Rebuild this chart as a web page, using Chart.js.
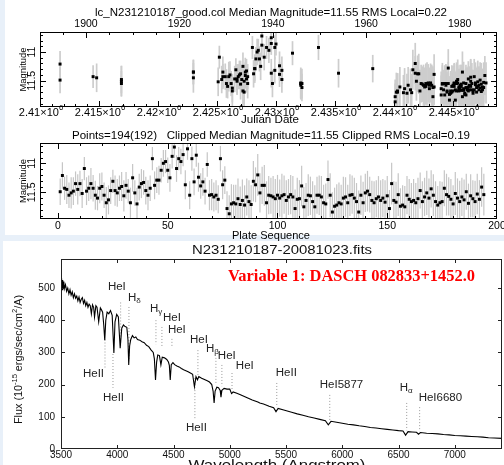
<!DOCTYPE html>
<html><head><meta charset="utf-8">
<script src="https://cdn.jsdelivr.net/npm/chart.js@4.4.0/dist/chart.umd.min.js"></script>
<style>
html,body{margin:0;padding:0}
body{width:504px;height:465px;overflow:hidden;position:relative;background:#e8f0f9}
.pn{position:absolute;background:#fff}
canvas{position:absolute;left:0;top:0}
</style></head><body>
<div class="pn" style="left:5px;top:0;width:499px;height:235px"></div>
<div class="pn" style="left:3px;top:241px;width:501px;height:224px"></div>
<canvas id="lc1" width="504" height="465"></canvas>
<canvas id="lc2" width="504" height="465"></canvas>
<canvas id="sp" width="504" height="465"></canvas>
<script>
// ---------------- DATA ----------------
// Julian Date of each plate, in thousands of days (2410 = 2.41x10^6)
const jdK = [
 2411.7,2411.7,2414.5,2414.8,2416.9,2416.9,2416.9,2423.0,2423.0,2423.0,
 2425.1,2425.2,2425.4,2425.5,2425.5,2425.7,2425.8,2425.9,2426.0,2426.1,
 2426.2,2426.3,2426.3,2426.5,2426.6,2426.7,2426.7,2426.8,2426.9,2427.0,
 2427.0,2427.1,2427.2,2427.2,2427.3,2427.3,2427.4,2427.4,2427.5,2427.5,
 2427.6,2427.6,
 2428.0,2428.1,2428.2,2428.2,2428.3,2428.4,2428.5,2428.6,2428.7,2428.8,
 2428.8,2429.0,2429.2,2429.4,2429.6,2429.6,2429.6,2429.7,2429.9,2429.9,
 2430.0,2430.3,2430.3,2430.5,2430.5,
 2431.4,2432.1,2432.1,2432.1,2432.2,2432.2,2433.6,2435.3,2438.2,
 2440.1,2440.1,2440.2,2440.3,2440.3,2440.5,2440.8,2440.9,2441.1,2441.2,
 2441.4,2441.5,2441.6,2441.8,2441.8,2441.9,2442.0,2442.1,2442.2,2442.3,
 2442.4,2442.5,2442.6,2442.7,2442.7,2442.8,2442.9,2443.0,2443.0,2443.1,
 2443.2,2443.3,2443.3,2443.4,2443.4,
 2444.0,2444.0,2444.1,2444.1,2444.2,2444.3,2444.3,2444.4,2444.4,2444.5,
 2444.5,2444.6,2444.6,2444.7,2444.7,2444.8,2444.8,2444.9,2444.9,2445.0,
 2445.0,2445.1,2445.1,2445.1,2445.2,2445.2,2445.3,2445.3,2445.3,2445.4,
 2445.4,2445.5,2445.5,2445.5,2445.6,2445.6,2445.7,2445.7,2445.7,2445.8,
 2445.8,2445.9,2445.9,2445.9,2446.0,2446.0,2446.1,2446.1,2446.1,2446.2,
 2446.2,2446.3,2446.3,2446.3,2446.4,2446.4,2446.5,2446.5,2446.5,2446.6,
 2446.6,2446.7,2446.7,2446.8,2446.8,2446.9,2446.9,2447.0,2447.0,2447.1,
 2447.1,2447.2,2447.2,2447.3,2447.3,2447.4,2447.4,2447.5,2447.5,2447.6,
 2447.6,2447.7,2447.8
];
// Magnitude of each plate, in plate-sequence order
const mags = [
 11.49,11.21,11.43,11.45,11.55,11.51,11.48,11.35,11.45,11.35,
 11.52,11.09,11.48,11.43,11.35,11.43,11.55,11.60,11.43,11.40,
 11.55,11.68,11.63,11.47,11.31,11.47,11.51,11.43,11.40,11.56,
 11.38,11.48,11.68,11.25,11.51,11.70,11.41,11.35,11.33,11.47,
 11.55,11.43,10.92,11.38,11.29,11.29,11.12,11.00,10.97,11.12,
 11.25,10.88,10.72,11.09,10.92,10.97,10.85,11.37,10.75,11.55,
 10.92,11.32,10.86,11.24,11.39,11.32,11.48,11.02,11.55,11.54,
 11.58,11.55,11.62,10.92,11.37,11.29,11.78,11.87,11.70,11.68,
 11.70,11.61,11.71,
 11.64,11.72,11.58,11.66,11.71,11.31,11.37,11.20,11.51,11.38,
 11.38,11.68,11.55,11.56,11.58,11.61,11.55,11.60,11.56,11.54,
 11.64,11.58,11.54,11.58,11.78,11.62,11.61,11.39,11.75,11.64,
 11.55,11.56,11.66,11.75,11.55,11.55,11.58,11.68,11.70,11.28,
 11.55,11.84,11.74,11.72,11.68,11.70,11.60,11.58,11.68,11.55,
 11.54,11.60,11.66,11.84,11.55,11.68,11.51,11.48,11.54,11.64,
 11.68,11.61,11.58,11.64,11.60,11.67,11.56,11.78,11.35,11.64,
 11.67,11.54,11.74,11.72,11.75,11.55,11.62,11.66,11.64,11.68,
 11.61,11.47,11.66,11.58,11.51,11.60,11.44,11.55,11.66,11.72,
 11.68,11.66,11.43,11.54,11.57,11.62,11.70,11.52,11.60,11.66,
 11.58,11.63,11.49,11.69,11.56,11.61,11.66,11.53,11.62,11.41,
 11.54
];
// Magnitude error (half length of the grey bars)
const errs = [
 0.23,0.23,0.20,0.25,0.22,0.27,0.24,0.21,0.26,0.22,
 0.25,0.20,0.24,0.22,0.27,0.23,0.25,0.21,0.26,0.24,
 0.22,0.27,0.25,0.23,0.20,0.26,0.24,0.22,0.25,0.27,
 0.23,0.21,0.26,0.24,0.22,0.28,0.23,0.25,0.21,0.24,
 0.26,0.22,0.20,0.24,0.22,0.25,0.21,0.23,0.20,0.22,
 0.24,0.21,0.19,0.23,0.20,0.22,0.20,0.25,0.19,0.24,
 0.21,0.23,0.20,0.25,0.22,0.24,0.23,0.21,0.26,0.27,
 0.25,0.26,0.24,0.22,0.25,0.24,0.30,0.32,0.34,0.31,
 0.33,0.35,0.31,0.36,0.34,0.32,0.37,0.33,0.35,0.30,
 0.36,0.34,0.32,0.35,0.37,0.33,0.31,0.36,0.34,0.35,
 0.32,0.38,0.33,0.35,0.31,0.34,0.36,0.33,0.37,0.32,
 0.35,0.34,0.30,0.36,0.33,0.35,0.37,0.32,0.34,0.36,
 0.31,0.35,0.33,0.38,0.34,0.32,0.36,0.35,0.33,0.37,
 0.34,0.31,0.36,0.33,0.35,0.32,0.37,0.34,0.36,0.33,
 0.35,0.31,0.34,0.37,0.32,0.36,0.35,0.33,0.38,0.34,
 0.32,0.36,0.33,0.35,0.37,0.31,0.34,0.36,0.33,0.35,
 0.32,0.37,0.34,0.36,0.31,0.35,0.33,0.38,0.34,0.32,
 0.36,0.35,0.33,0.37,0.34,0.31,0.36,0.33,0.35,0.32,
 0.37,0.34,0.36,0.33,0.35,0.31,0.34,0.37,0.32,0.36,
 0.35,0.33,0.34,0.36
];
// tick values
const jdTicks = [2410,2415,2420,2425,2430,2435,2440,2445];
const yearTicks = [1900,1920,1940,1960,1980];
const magTicks = [11,11.5];
const seqTicks = [0,50,100,150,200];
const waveTicks = [3500,4000,4500,5000,5500,6000,6500,7000];
const fluxTicks = [0,100,200,300,400,500];

// spectrum (Angstrom, 1e-15 erg/s/cm2/A)
const specWave = [3500,3505,3510,3515,3520,3525,3530,3540,3550,3560,3570,3580,3590,3600,3610,3620,3630,3640,3650,3660,3670,3680,3690,3700,3710,3720,3730,3740,3750,3760,3770,3780,3790,3798,3810,3820,3835,3850,3860,3870,3880,3889,3898,3910,3925,3940,3955,3970,3980,3995,4010,4026,4040,4055,4070,4085,4095,4102,4110,4120,4135,4150,4165,4180,4200,4220,4240,4260,4280,4300,4320,4330,4340,4350,4360,4375,4388,4400,4420,4440,4455,4463,4471,4480,4495,4510,4530,4550,4570,4590,4610,4630,4650,4670,4686,4700,4713,4725,4750,4775,4800,4820,4840,4852,4861,4870,4885,4900,4915,4922,4930,4950,4975,5000,5016,5030,5063,5100,5150,5200,5250,5267,5300,5350,5390,5411,5430,5480,5550,5600,5650,5700,5750,5800,5850,5876,5900,5950,6000,6050,6100,6150,6200,6250,6300,6350,6400,6450,6500,6540,6563,6585,6620,6660,6678,6695,6750,6800,6850,6900,6950,7000,7050,7100,7150,7200,7250,7300,7350,7420];
const specFlux = [505,530,495,525,500,520,498,510,490,500,482,495,478,488,470,482,468,475,460,472,455,465,470,452,462,445,455,440,450,445,420,448,440,410,445,440,395,438,432,425,385,338,400,425,420,430,415,298,395,418,410,313,375,385,380,378,340,261,320,340,352,345,348,340,338,333,330,322,318,308,300,280,214,270,292,290,261,285,283,278,270,260,214,262,268,262,258,255,250,246,243,240,236,232,193,225,215,225,220,216,212,208,200,180,143,180,192,190,182,161,182,188,186,186,172,177,173,168,160,152,146,143,140,133,128,116,126,121,114,109,105,100,96,92,88,75,86,83,80,77,75,72,70,67,65,63,61,59,57,56,43,54,53,52,46,51,49,48,47,45,44,42,41,40,39,38,37,35,34,33];

// identified lines: name, wavelength of dotted marker, its flux extent, label anchor (wavelength, flux)
const lineNames = ['HeII','HeII','HeI','H|δ','H|γ','HeI','HeI','HeII','HeI','H|β','HeI','HeI','HeII','HeI5877','H|α','HeI6680'];
const lineWave  = [3891,3962,4030,4104,4344,4397,4486,4690,4717,4877,4930,5020,5418,5889,6573,6688];
const lineTop   = [340,295,455,441,400,379,342,220,307,283,261,236,205,168,143,130];
const lineBot   = [250,190,320,275,325,320,315,90,230,205,195,185,130,88,58,55];
const labelWave = [3695,3873,3917,4095,4290,4406,4450,4610,4646,4788,4894,5054,5409,5800,6511,6679];
const labelFlux = [233,158,503,469,435,407,370,65,339,311,289,258,236,199,189,158];

// ---------------- HELPERS ----------------
const SANS = '"Liberation Sans", Arial, Helvetica, sans-serif';
const SERIF = '"Liberation Serif", "Times New Roman", serif';
Chart.defaults.animation = false;
Chart.defaults.responsive = false;
Chart.defaults.events = [];
Chart.defaults.plugins.legend.display = false;
Chart.defaults.plugins.tooltip.enabled = false;

function box(w, h) {
  return s => {
    if (w != null) s.width = w;
    if (h != null) s.height = h;
    s.paddingLeft = s.paddingRight = s.paddingTop = s.paddingBottom = 0;
  };
}
function setTicks(arr) { return s => { s.ticks = arr.map(v => ({value: v})); }; }
function range(a, b, st) { const r = []; for (let v = a; v <= b + 1e-9; v += st) r.push(+v.toFixed(6)); return r; }
function axisOpts(extra) {
  return Object.assign({type: 'linear', offset: false, grid: {display: false}, border: {display: false}, ticks: {display: false}}, extra);
}
// rich text: segs = [[text, kind]] kind 0 normal, 1 superscript, 2 subscript
function rich(ctx, segs, x, y, o) {
  const fam = o.family || SANS, sz = o.size, wt = o.weight || 'normal';
  const f = k => wt + ' ' + (k ? sz * 0.7 : sz) + 'px ' + fam;
  let w = 0;
  const ws = segs.map(([t, k]) => { ctx.font = f(k); const m = ctx.measureText(t).width; w += m; return m; });
  const sx = o.width ? o.width / w : (o.sx || 1);
  ctx.save();
  ctx.translate(x, y);
  if (o.rot) ctx.rotate(o.rot);
  ctx.scale(sx, 1);
  let cx = o.align === 'left' ? 0 : o.align === 'right' ? -w : -w / 2;
  ctx.textBaseline = 'middle'; ctx.textAlign = 'left'; ctx.fillStyle = o.color || '#000';
  segs.forEach(([t, k], i) => {
    ctx.font = f(k);
    ctx.fillText(t, cx, k === 1 ? -sz * 0.38 : k === 2 ? sz * 0.32 : 0);
    cx += ws[i];
  });
  ctx.restore();
}
function seg(ctx, x1, y1, x2, y2) { ctx.beginPath(); ctx.moveTo(x1, y1); ctx.lineTo(x2, y2); ctx.stroke(); }
function frame(ctx, a, col) {
  ctx.strokeStyle = col || '#000'; ctx.lineWidth = 1;
  ctx.strokeRect(a.left + 0.5, a.top + 0.5, a.right - a.left - 1, a.bottom - a.top - 1);
}
function hTicks(ctx, a, sc, vals, len, bottom, top) {
  vals.forEach(v => {
    const p = Math.round(sc.getPixelForValue(v)) + 0.5;
    if (p < a.left || p > a.right) return;
    if (bottom) seg(ctx, p, a.bottom, p, a.bottom - len);
    if (top) seg(ctx, p, a.top, p, a.top + len);
  });
}
function vTicks(ctx, a, sc, vals, len, left, right) {
  vals.forEach(v => {
    const p = Math.round(sc.getPixelForValue(v)) + 0.5;
    if (p < a.top || p > a.bottom) return;
    if (left) seg(ctx, a.left, p, a.left + len, p);
    if (right) seg(ctx, a.right, p, a.right - len, p);
  });
}
function magLabels(ctx, sc) {
  sc.ticks.forEach(t => {
    rich(ctx, [[String(t.value), 0]], 32, sc.getPixelForValue(t.value), {size: 10.5, rot: -Math.PI / 2});
  });
}

// ---------------- PANEL 1 : magnitude vs Julian date ----------------
const pts1 = mags.map((m, i) => ({x: jdK[i], y: m}));
const bars1 = mags.map((m, i) => ({x: jdK[i], y: [m - errs[i], m + errs[i]]}));
new Chart(document.getElementById('lc1'), {
  type: 'scatter',
  data: {datasets: [
    {type: 'scatter', data: pts1, order: 0, pointStyle: 'rect', pointRadius: 2.1, backgroundColor: '#000', borderWidth: 0},
    {type: 'bar', data: bars1, order: 1, barThickness: 1.7, inflateAmount: 0, backgroundColor: '#cdcdcd', borderWidth: 0, grouped: false}
  ]},
  options: {
    layout: {padding: {left: 0, right: 7, top: 0, bottom: 0}},
    scales: {
      x: axisOpts({position: 'bottom', min: 2410, max: 2448.73, afterBuildTicks: setTicks(jdTicks), afterFit: box(null, 358)}),
      xt: axisOpts({position: 'top', min: 1890.15, max: 1988.0, afterBuildTicks: setTicks(yearTicks), afterFit: box(null, 32)}),
      y: axisOpts({position: 'left', reverse: true, min: 10.65, max: 11.96, afterBuildTicks: setTicks(magTicks), afterFit: box(40, null)})
    }
  },
  plugins: [{id: 'deco1', afterDraw(c) {
    const ctx = c.ctx, a = c.chartArea, s = c.scales;
    ctx.save();
    frame(ctx, a);
    hTicks(ctx, a, s.x, jdTicks, 6, true, false);
    hTicks(ctx, a, s.x, range(2410, 2448, 1), 3, true, false);
    hTicks(ctx, a, s.xt, yearTicks, 6, false, true);
    hTicks(ctx, a, s.xt, range(1890, 1985, 5), 3, false, true);
    vTicks(ctx, a, s.y, magTicks, 6, true, true);
    vTicks(ctx, a, s.y, range(10.7, 11.9, 0.1), 3, true, true);
    s.x.ticks.forEach(t => {
      const p = s.x.getPixelForValue(t.value);
      rich(ctx, [[String(t.value / 1000) + '×10', 0], ['6', 1]], p + 1, 112.5, {size: 11});
    });
    s.xt.ticks.forEach(t => rich(ctx, [[String(t.value), 0]], s.xt.getPixelForValue(t.value), 24, {size: 10.5}));
    magLabels(ctx, s.y);
    rich(ctx, [['lc_N231210187_good.col Median Magnitude=11.55 RMS Local=0.22', 0]], 271, 13, {size: 11, width: 352});
    rich(ctx, [['Julian Date', 0]], 270, 120.5, {size: 10.5, width: 58});
    rich(ctx, [['Magnitude', 0]], 23, (a.top + a.bottom) / 2, {size: 9.5, width: 44, rot: -Math.PI / 2});
    ctx.restore();
  }}]
});

// ---------------- PANEL 2 : magnitude vs plate sequence ----------------
const pts2 = mags.map((m, i) => ({x: i + 1, y: m}));
const bars2 = mags.map((m, i) => ({x: i + 1, y: [m - errs[i], m + errs[i]]}));
new Chart(document.getElementById('lc2'), {
  type: 'scatter',
  data: {datasets: [
    {type: 'scatter', data: pts2, order: 0, pointStyle: 'rect', pointRadius: 2.1, backgroundColor: '#000', borderWidth: 0},
    {type: 'bar', data: bars2, order: 1, barThickness: 1.2, inflateAmount: 0, backgroundColor: '#c6c6c6', borderWidth: 0, grouped: false}
  ]},
  options: {
    layout: {padding: {left: 0, right: 7, top: 143, bottom: 0}},
    scales: {
      x: axisOpts({position: 'bottom', min: -8.2, max: 200, afterBuildTicks: setTicks(seqTicks), afterFit: box(null, 246)}),
      y: axisOpts({position: 'left', reverse: true, min: 10.65, max: 11.96, afterBuildTicks: setTicks(magTicks), afterFit: box(40, null)})
    }
  },
  plugins: [{id: 'deco2', afterDraw(c) {
    const ctx = c.ctx, a = c.chartArea, s = c.scales;
    ctx.save();
    frame(ctx, a);
    hTicks(ctx, a, s.x, seqTicks, 6, true, true);
    hTicks(ctx, a, s.x, range(0, 200, 10), 3, true, true);
    vTicks(ctx, a, s.y, magTicks, 6, true, true);
    vTicks(ctx, a, s.y, range(10.7, 11.9, 0.1), 3, true, true);
    s.x.ticks.forEach(t => rich(ctx, [[String(t.value), 0]], s.x.getPixelForValue(t.value), 226.5, {size: 10.5}));
    magLabels(ctx, s.y);
    rich(ctx, [['Points=194(192)   Clipped Median Magnitude=11.55 Clipped RMS Local=0.19', 0]], 271, 135.5, {size: 11, width: 398});
    rich(ctx, [['Plate Sequence', 0]], 271, 236, {size: 10.5, width: 78});
    rich(ctx, [['Magnitude', 0]], 23, (a.top + a.bottom) / 2, {size: 9.5, width: 44, rot: -Math.PI / 2});
    ctx.restore();
  }}]
});

// ---------------- PANEL 3 : spectrum ----------------
const spec = specWave.map((w, i) => ({x: w, y: specFlux[i]}));
const marks = [];
lineWave.forEach((w, i) => { marks.push({x: w, y: lineTop[i]}, {x: w, y: lineBot[i]}, {x: w, y: null}); });
new Chart(document.getElementById('sp'), {
  type: 'scatter',
  data: {datasets: [
    {data: spec, showLine: true, pointRadius: 0, borderColor: '#000', borderWidth: 1.1, order: 0},
    {data: marks, showLine: true, spanGaps: false, pointRadius: 0, borderColor: '#9a9a9a', borderWidth: 1, borderDash: [1, 2], order: 1}
  ]},
  options: {
    layout: {padding: {left: 0, right: 2, top: 259, bottom: 0}},
    scales: {
      x: axisOpts({position: 'bottom', min: 3500, max: 7420, afterBuildTicks: setTicks(waveTicks), afterFit: box(null, 16)}),
      y: axisOpts({position: 'left', min: 0, max: 590, afterBuildTicks: setTicks(fluxTicks), afterFit: box(61, null)})
    }
  },
  plugins: [{id: 'deco3', afterDraw(c) {
    const ctx = c.ctx, a = c.chartArea, s = c.scales;
    ctx.save();
    frame(ctx, a, '#222');
    ctx.strokeStyle = '#222';
    hTicks(ctx, a, s.x, waveTicks, 4, true, true);
    vTicks(ctx, a, s.y, fluxTicks, 4, true, true);
    s.x.ticks.forEach(t => rich(ctx, [[String(t.value), 0]], s.x.getPixelForValue(t.value), 455, {size: 10, color: '#111'}));
    s.y.ticks.forEach(t => rich(ctx, [[String(t.value), 0]], 55, s.y.getPixelForValue(t.value), {size: 10, align: 'right', color: '#111'}));
    // line identifications
    lineNames.forEach((n, i) => {
      const x = s.x.getPixelForValue(labelWave[i]), y = s.y.getPixelForValue(labelFlux[i]);
      const parts = n.split('|');
      const segs = parts.length > 1 ? [[parts[0], 0], [parts[1], 2]] : [[n, 0]];
      rich(ctx, segs, x, y, {size: 10, align: 'left', color: '#222', sx: 1.15});
    });
    rich(ctx, [['N231210187-20081023.fits', 0]], 282, 250.5, {size: 12, width: 180, color: '#111'});
    rich(ctx, [['Variable 1: DASCH 082833+1452.0', 0]], 228, 277, {size: 17, family: SERIF, weight: 'bold', color: '#f00', align: 'left', width: 247});
    rich(ctx, [['Flux (10', 0], ['-15', 1], [' ergs/sec/cm', 0], ['2', 1], ['/A)', 0]], 19, 359.5, {size: 11.5, width: 129, rot: -Math.PI / 2, color: '#111'});
    rich(ctx, [['Wavelength (Angstrom)', 0]], 277, 466, {size: 14, width: 177, color: '#111'});
    ctx.restore();
  }}]
});
</script></body></html>
